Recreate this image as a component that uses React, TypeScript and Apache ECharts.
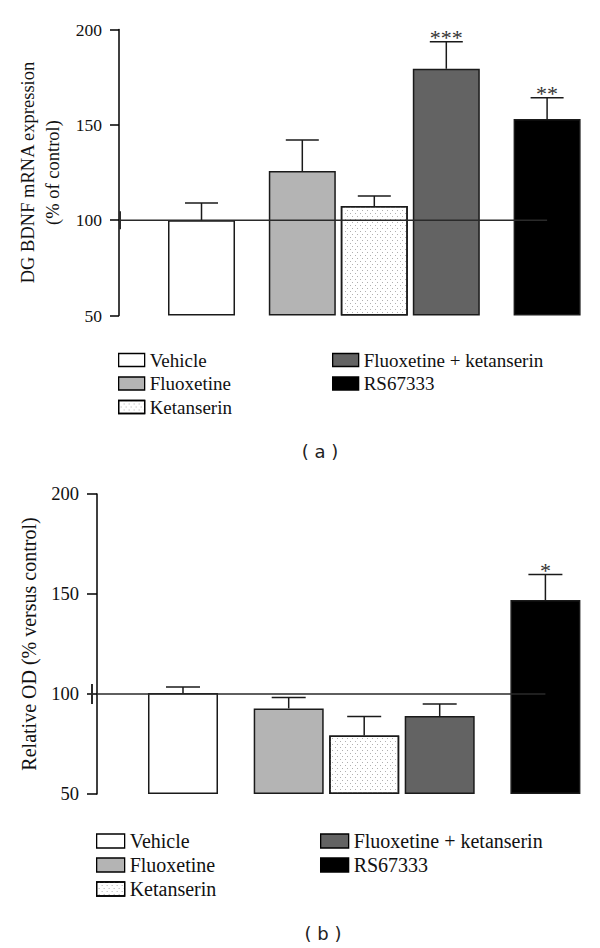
import React, { useEffect, useRef } from 'react';
import * as echarts from 'echarts';

// ---------------- data ----------------
const GROUPS = ['Vehicle', 'Fluoxetine', 'Ketanserin', 'Fluoxetine + ketanserin', 'RS67333'];
const A_MEAN = [100, 125.8, 107.4, 179.4, 153];
const A_SEM = [9, 16.2, 5.3, 14.2, 11.2];
const A_SIG = ['', '', '', '***', '**'];
const B_MEAN = [100.5, 92.8, 79.3, 89, 147];
const B_SEM = [3, 5.5, 9.5, 6, 12.8];
const B_SIG = ['', '', '', '', '*'];
const Y_TICKS = [50, 100, 150, 200];
const CONTROL = 100;
const A_YNAME = ['DG BDNF mRNA expression', '(% of control)'];
const B_YNAME = ['Relative OD (% versus control)'];
const PANEL_LABELS = ['( a )', '( b )'];

// ---------------- layout / style ----------------
const SLOT_X = [0, 1.4, 2.4, 3.4, 4.8];
const FILLS = ['#ffffff', '#b4b4b4', '#ffffff', '#636363', '#000000'];
const SERIF = 'Liberation Serif, Times New Roman, serif';
const SANS = 'DejaVu Sans, Liberation Sans, Arial, sans-serif';
const DOTS = {
  symbol: 'rect',
  symbolSize: 1,
  color: '#b0b0b0',
  dashArrayX: [[1, 4], [0, 2, 1, 2]],
  dashArrayY: [1, 2],
  rotation: 0,
};

const PANELS = [
  {
    mean: A_MEAN, sem: A_SEM, sig: A_SIG, yName: A_YNAME, label: PANEL_LABELS[0],
    grid: { left: 119, top: 29.5, width: 471.3, height: 286 },
    xMin: -1.146, xMax: 5.4, barWidth: 67, cap: 16.5,
    tickLen: 9, labelMargin: 17, labelSize: 17.5,
    nameSize: 18.5, nameLH: 24.5, nameGap: 51.7,
    legendTop: 350, legendLeft: [118, 332], iconW: 26, iconH: 13, textGap: [13, 12],
    legendSize: 19, rowGap: 3.5, markX: 1, markHalf: 9,
    labelPos: [320, 451], labelSize2: 18,
  },
  {
    mean: B_MEAN, sem: B_SEM, sig: B_SIG, yName: B_YNAME, label: PANEL_LABELS[1],
    grid: { left: 97, top: 494, width: 493.7, height: 300 },
    xMin: -1.139, xMax: 5.4, barWidth: 70, cap: 17,
    tickLen: 10, labelMargin: 18, labelSize: 18.5,
    nameSize: 20, nameLH: 22, nameGap: 55,
    legendTop: 831, legendLeft: [96, 320], iconW: 28, iconH: 14, textGap: [12, 11],
    legendSize: 20, rowGap: 4, markX: -5, markHalf: 10,
    labelPos: [323, 933], labelSize2: 18,
  },
];

function buildOption() {
  const series: any[] = [];
  PANELS.forEach((p, k) => {
    GROUPS.forEach((g, i) => {
      series.push({
        type: 'bar',
        name: g,
        xAxisIndex: k,
        yAxisIndex: k,
        data: [[SLOT_X[i], p.mean[i]]],
        barWidth: p.barWidth,
        barGap: '-100%',
        clip: false,
        silent: true,
        z: 2,
        itemStyle: {
          color: FILLS[i],
          borderColor: '#1a1a1a',
          borderWidth: 1.5,
          ...(i === 2 ? { decal: DOTS } : {}),
        },
      });
    });
    // reference line at control level
    series.push({
      type: 'custom',
      xAxisIndex: k,
      yAxisIndex: k,
      silent: true,
      z: 3,
      data: [[SLOT_X[4], CONTROL]],
      renderItem: (params: any, api: any) => {
        const pt = api.coord([api.value(0), api.value(1)]);
        const left = params.coordSys.x;
        return {
          type: 'group',
          children: [
            { type: 'line', shape: { x1: left, y1: pt[1], x2: pt[0], y2: pt[1] }, style: { stroke: '#2a2a2a', lineWidth: 1.5 } },
            { type: 'line', shape: { x1: left + p.markX, y1: pt[1] - p.markHalf, x2: left + p.markX, y2: pt[1] + p.markHalf }, style: { stroke: '#2a2a2a', lineWidth: 2 } },
          ],
        };
      },
    });
    // error bars + significance
    series.push({
      type: 'custom',
      xAxisIndex: k,
      yAxisIndex: k,
      silent: true,
      z: 4,
      data: GROUPS.map((g, i) => [SLOT_X[i], p.mean[i], p.mean[i] + p.sem[i]]),
      renderItem: (params: any, api: any) => {
        const x = api.value(0);
        const p0 = api.coord([x, api.value(1)]);
        const p1 = api.coord([x, api.value(2)]);
        const sig = p.sig[params.dataIndex];
        const children: any[] = [
          { type: 'line', shape: { x1: p0[0], y1: p0[1], x2: p1[0], y2: p1[1] }, style: { stroke: '#1a1a1a', lineWidth: 1.5 } },
          { type: 'line', shape: { x1: p1[0] - p.cap, y1: p1[1], x2: p1[0] + p.cap, y2: p1[1] }, style: { stroke: '#1a1a1a', lineWidth: 1.5 } },
        ];
        if (sig) {
          children.push({
            type: 'text',
            x: p1[0],
            y: p1[1] - 4,
            style: {
              text: sig,
              textAlign: 'center', align: 'center',
              textVerticalAlign: 'middle', verticalAlign: 'middle',
              fontFamily: SERIF, fontSize: 22, fill: '#333',
            },
          });
        }
        return { type: 'group', children };
      },
    });
  });

  const legend: any[] = [];
  PANELS.forEach((p) => {
    [[0, 1, 2], [3, 4]].forEach((idx, c) => {
      legend.push({
        data: idx.map((i) => GROUPS[i]),
        orient: 'vertical',
        left: p.legendLeft[c],
        top: p.legendTop,
        padding: 0,
        itemWidth: p.iconW,
        itemHeight: p.iconH,
        itemGap: p.rowGap,
        itemTextGap: p.textGap[c],
        icon: 'rect',
        selectedMode: false,
        itemStyle: { borderColor: '#000', borderWidth: 1.3 },
        textStyle: { fontFamily: SERIF, fontSize: p.legendSize, lineHeight: 20, color: '#111' },
      });
    });
  });

  return {
    animation: false,
    backgroundColor: '#ffffff',
    textStyle: { fontFamily: SERIF },
    grid: PANELS.map((p) => ({ ...p.grid })),
    xAxis: PANELS.map((p, k) => ({ gridIndex: k, type: 'value', min: p.xMin, max: p.xMax, show: false })),
    yAxis: PANELS.map((p, k) => ({
      gridIndex: k,
      type: 'value',
      min: Y_TICKS[0],
      max: Y_TICKS[Y_TICKS.length - 1],
      interval: Y_TICKS[1] - Y_TICKS[0],
      startValue: Y_TICKS[0],
      name: p.yName.join('\n'),
      nameLocation: 'middle',
      nameGap: p.nameGap,
      nameTextStyle: { fontFamily: SERIF, fontSize: p.nameSize, lineHeight: p.nameLH, color: '#111' },
      axisLine: { show: true, onZero: false, lineStyle: { color: '#000', width: 1.5 } },
      axisTick: { show: true, length: p.tickLen, lineStyle: { color: '#000', width: 1.5 } },
      axisLabel: { margin: p.labelMargin, fontFamily: SERIF, fontSize: p.labelSize, color: '#111' },
      splitLine: { show: false },
    })),
    legend,
    series,
    graphic: PANELS.map((p) => ({
      type: 'text',
      x: p.labelPos[0],
      y: p.labelPos[1],
      style: {
        text: p.label,
        textAlign: 'center', align: 'center',
        textVerticalAlign: 'middle', verticalAlign: 'middle',
        fontFamily: SANS, fontSize: p.labelSize2, fill: '#222',
      },
    })),
  };
}

export default function App() {
  const ref = useRef<HTMLDivElement>(null);
  useEffect(() => {
    document.body.style.margin = '0';
    if (!ref.current) return;
    const chart = echarts.init(ref.current, undefined, { renderer: 'svg' });
    chart.setOption(buildOption() as any);
    return () => chart.dispose();
  }, []);
  return <div ref={ref} style={{ width: 600, height: 948 }} />;
}
